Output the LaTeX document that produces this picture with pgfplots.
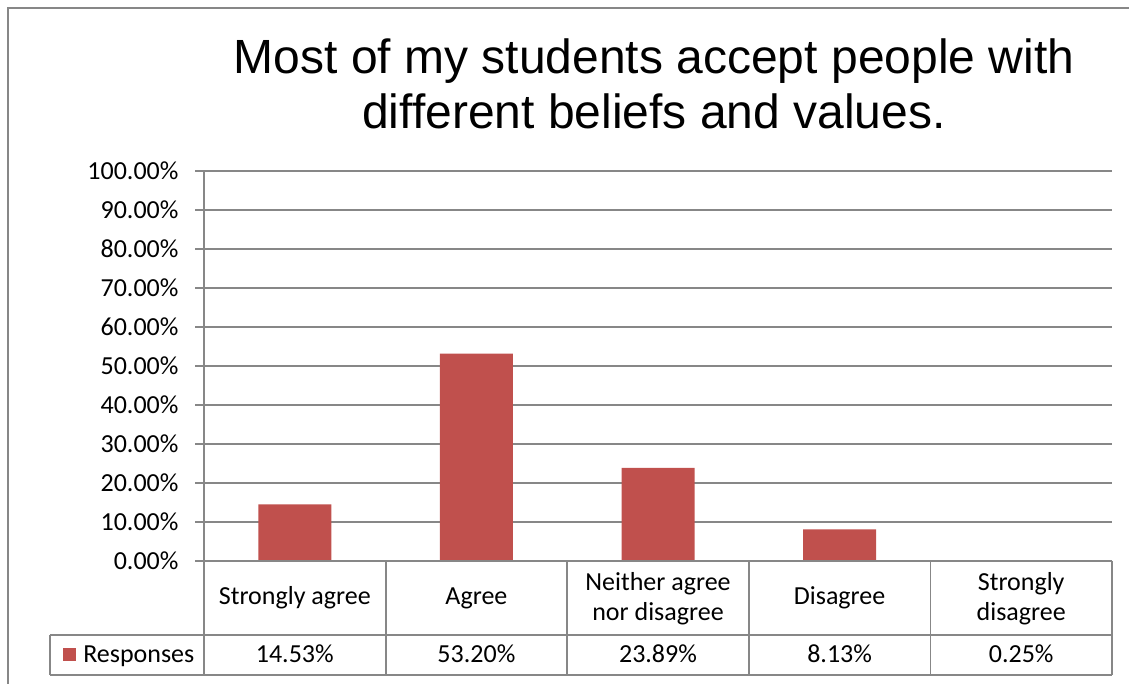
\documentclass[border=0pt]{standalone}
\usepackage{fontspec}
\setmainfont{Carlito}
\newfontfamily\titlefont{Liberation Sans}
\usepackage{pgfplots}
\pgfplotsset{compat=1.18}
\definecolor{barred}{HTML}{C0504D}
\definecolor{linegray}{HTML}{878787}
\begin{document}
\begin{tikzpicture}
\useasboundingbox (0,0) rectangle (1129pt,684pt);
\draw[linegray, line width=2pt] (8pt,0) -- (8pt,676pt) -- (1129pt,676pt);
\node[font=\titlefont\fontsize{48}{55}\selectfont, anchor=base, inner sep=0pt] at (654pt,610pt) {Most of my students accept people with};
\node[font=\titlefont\fontsize{48}{55}\selectfont, anchor=base, inner sep=0pt] at (654pt,555pt) {different beliefs and values.};
\begin{axis}[
  at={(204pt,123pt)}, anchor=south west, scale only axis,
  width=908pt, height=390pt,
  xmin=-0.5, xmax=4.5, ymin=0, ymax=100,
  axis line style={draw=none},
  ytick={0,10,...,100}, ytick pos=left, xtick=\empty,
  ymajorgrids, grid style={linegray, line width=1.8pt},
  major tick style={linegray, line width=1.8pt},
  tick align=outside, major tick length=9pt,
  /pgf/number format/assume math mode=true,
  yticklabel={\pgfmathprintnumber[fixed,fixed zerofill,precision=2]{\tick}\%},
  yticklabel style={font=\fontsize{26}{31}\selectfont, xshift=-13pt},
  clip=false,
  ybar, bar width=73pt,
]
\addplot[fill=barred, draw=none] coordinates {(0,14.53) (1,53.20) (2,23.89) (3,8.13) (4,0.25)};
% data table lines
\draw[linegray, line width=1.8pt] (axis cs:-0.5,0) -- (axis cs:4.5,0);
\draw[linegray, line width=1.8pt] (axis cs:-0.5,100) -- (axis cs:-0.5,-29.23);
\draw[linegray, line width=1.8pt] (axis cs:0.5,0) -- (axis cs:0.5,-29.23);
\draw[linegray, line width=1.8pt] (axis cs:1.5,0) -- (axis cs:1.5,-29.23);
\draw[linegray, line width=1.8pt] (axis cs:2.5,0) -- (axis cs:2.5,-29.23);
\draw[linegray, line width=1.8pt] (axis cs:3.5,0) -- (axis cs:3.5,-29.23);
\draw[linegray, line width=1.8pt] (axis cs:4.5,0) -- (axis cs:4.5,-29.23);
\draw[linegray, line width=1.8pt] (axis cs:-1.348,-18.97) -- (axis cs:4.5,-18.97);
\draw[linegray, line width=1.8pt] (axis cs:-1.348,-29.23) -- (axis cs:4.5,-29.23);
\draw[linegray, line width=1.8pt] (axis cs:-1.348,-18.97) -- (axis cs:-1.348,-29.23);
% category labels
\begin{scope}[every node/.style={font=\fontsize{26}{31}\selectfont, anchor=base, inner sep=0pt}]
\node at (axis cs:0,-11.03) {Strongly agree};
\node at (axis cs:1,-11.03) {Agree};
\node at (axis cs:2,-7.44) {Neither agree};
\node at (axis cs:2,-15.38) {nor disagree};
\node at (axis cs:3,-11.03) {Disagree};
\node at (axis cs:4,-7.44) {Strongly};
\node at (axis cs:4,-15.38) {disagree};
\node at (axis cs:0,-25.9) {14.53\%};
\node at (axis cs:1,-25.9) {53.20\%};
\node at (axis cs:2,-25.9) {23.89\%};
\node at (axis cs:3,-25.9) {8.13\%};
\node at (axis cs:4,-25.9) {0.25\%};
\node[anchor=base west] at (axis cs:-1.166,-25.9) {Responses};
\end{scope}
\fill[barred] (axis cs:-1.276,-22.31) rectangle (axis cs:-1.205,-25.64);
\end{axis}
\end{tikzpicture}
\end{document}
